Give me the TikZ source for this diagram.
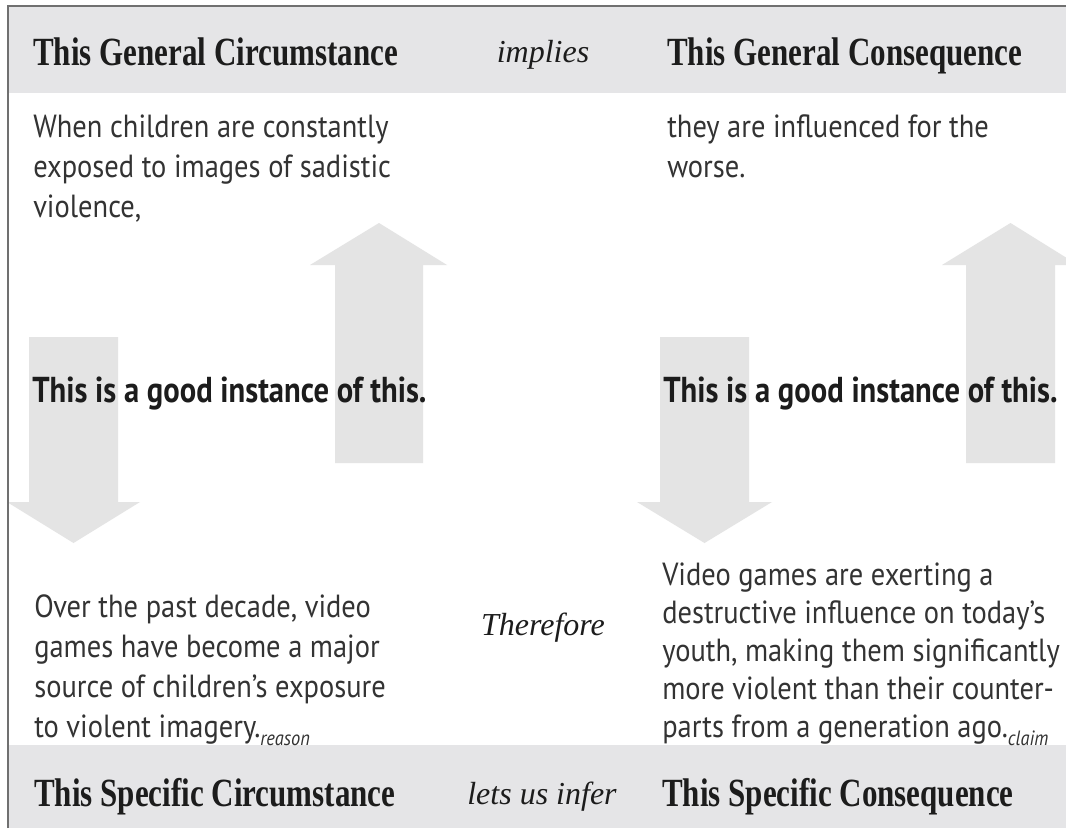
\documentclass[tikz,border=0pt]{standalone}
\usepackage{fontspec}
\newfontfamily\headfont[FakeStretch=0.775]{Liberation Serif}
\newfontfamily\itserif{Liberation Serif}
\newfontfamily\bodyfont[FakeStretch=0.89]{PT Sans}
\newfontfamily\midfont[FakeStretch=0.85]{PT Sans}
\definecolor{bandgray}{HTML}{E5E5E7}
\definecolor{arrowgray}{HTML}{E4E4E4}
\definecolor{framegray}{HTML}{707070}
\definecolor{headink}{HTML}{1C1C1C}
\definecolor{bodyink}{HTML}{333333}
\tikzset{
  band/.style={fill=bandgray, draw=none},
  bigarrow/.style={fill=arrowgray, draw=none},
  heading/.style={anchor=base west, inner sep=0pt, text=headink, font=\headfont\bfseries\fontsize{30}{34}\selectfont},
  connective/.style={anchor=base, inner sep=0pt, text=headink, font=\itserif\itshape\fontsize{24}{28}\selectfont},
  bodytext/.style={anchor=base west, inner sep=0pt, align=left, text=bodyink, font=\bodyfont\fontsize{24}{30}\selectfont},
  bodytextb/.style={bodytext, font=\bodyfont\fontsize{24}{28.5}\selectfont},
  instance/.style={anchor=base west, inner sep=0pt, text=headink, font=\midfont\bfseries\fontsize{27}{30}\selectfont},
}
\newcommand{\tag}[1]{\raisebox{-0.28em}{\fontsize{15.5}{15.5}\selectfont\itshape #1}}
\begin{document}
\begin{tikzpicture}[x=0.75pt,y=-0.75pt]
\useasboundingbox (0,0) rectangle (1066,828);
\clip (0,0) rectangle (1066,828);
\fill[white] (0,0) rectangle (1066,828);
% bands
\fill[band] (8,6) rectangle (1066,93);
\fill[band] (8,745) rectangle (1066,828);
% arrows
\fill[bigarrow] (29,337) -- (118,337) -- (118,502) -- (140,502) -- (73.5,543) -- (7,502) -- (29,502) -- cycle;
\fill[bigarrow] (335,463) -- (423,463) -- (423,265) -- (447,265) -- (379,223) -- (310,265) -- (335,265) -- cycle;
\fill[bigarrow] (660,337) -- (749,337) -- (749,502) -- (772,502) -- (704.5,543) -- (637,502) -- (660,502) -- cycle;
\fill[bigarrow] (966,463) -- (1055,463) -- (1055,265) -- (1078,265) -- (1010.5,223) -- (942,265) -- (966,265) -- cycle;
% frame
\draw[framegray, line width=2.2pt] (8,828) -- (8,6) -- (1066,6);
% headings
\node[heading] (gc) at (33,65) {This General Circumstance};
\node[connective] (imp) at (543,62) {implies};
\node[heading] (gq) at (667,65) {This General Consequence};
\node[heading] (sc) at (34,806) {This Specific Circumstance};
\node[connective] (inf) at (542,804) {lets us infer};
\node[heading] (sq) at (662,806) {This Specific Consequence};
% body texts (anchor = baseline of the last line)
\node[bodytext] (t1) at (33,217) {When children are constantly\\exposed to images of sadistic\\violence,};
\node[bodytext] (t2) at (667,177) {they are influenced for the\\worse.};
\node[instance] (i1) at (32,402) {This is a good instance of this.};
\node[instance] (i2) at (663,402) {This is a good instance of this.};
\node[bodytext] (t3) at (34,737) {Over the past decade, video\\games have become a major\\source of children’s exposure\\to violent imagery.\tag{reason}};
\node[connective] (thf) at (543,635) {Therefore};
\node[bodytextb] (t4) at (662,737) {Video games are exerting a\\destructive influence on today’s\\youth, making them significantly\\more violent than their counter-\\parts from a generation ago.\tag{claim}};
\end{tikzpicture}
\end{document}
